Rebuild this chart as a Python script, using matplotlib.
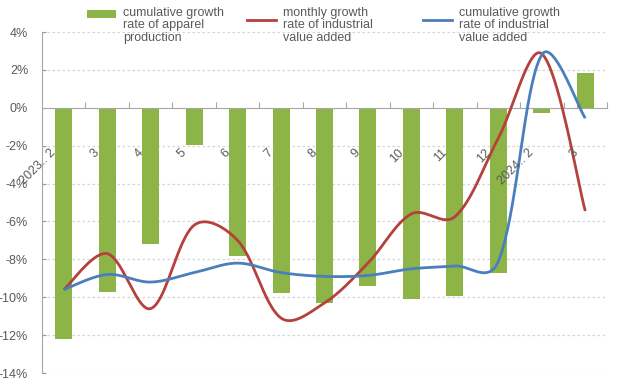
import numpy as np
import matplotlib
matplotlib.use("Agg")
import matplotlib.pyplot as plt
from matplotlib.patches import Patch
from matplotlib.lines import Line2D
from matplotlib.legend_handler import HandlerPatch, HandlerLine2D

categories = ["2023.. 2", "3", "4", "5", "6", "7", "8", "9", "10", "11", "12", "2024.. 2", "3"]
apparel_cum = [-12.2, -9.7, -7.2, -1.95, -7.85, -9.8, -10.3, -9.4, -10.1, -9.95, -8.7, -0.3, 1.85]
ind_monthly = [-9.6, -7.7, -10.6, -6.2, -7.0, -11.1, -10.3, -8.2, -5.6, -5.75, -1.6, 2.85, -5.45]
ind_cum = [-9.6, -8.8, -9.2, -8.7, -8.2, -8.7, -8.9, -8.85, -8.5, -8.35, -8.1, 2.8, -0.55]
yticks = [4, 2, 0, -2, -4, -6, -8, -10, -12, -14]
series_labels = ["cumulative growth\nrate of apparel\nproduction",
                 "monthly growth\nrate of industrial\nvalue added",
                 "cumulative growth\nrate of industrial\nvalue added"]

GREEN = "#8cb446"
RED = "#b5403c"
BLUE = "#4a7fbd"
GRAY = "#5a5a5a"

plt.rcParams['font.family'] = ['Liberation Sans', 'DejaVu Sans']

XU, YU = 43.4, 19.0  # pixel size of one category / one percent


def smooth(y, n=40, w=0.5):
    y = np.asarray(y, float)
    x = np.arange(len(y), dtype=float)
    P = np.column_stack([x * XU, y * YU])
    m = len(P)
    out = []
    for i in range(m - 1):
        p0 = P[i - 1] if i > 0 else P[i]
        p1 = P[i]
        p2 = P[i + 1]
        p3 = P[i + 2] if i + 2 < m else P[i + 1]
        d01 = np.linalg.norm(p1 - p0)
        d12 = np.linalg.norm(p2 - p1)
        d23 = np.linalg.norm(p3 - p2)
        t1 = p2 - p0
        t2 = p3 - p1
        f1 = d12 / (d01 + d12) / 3.0 if d01 > 0 else 1 / 6.0
        f2 = d12 / (d12 + d23) / 3.0 if d23 > 0 else 1 / 6.0
        f1 = w / 6.0 + (1 - w) * f1
        f2 = w / 6.0 + (1 - w) * f2
        b1 = p1 + t1 * f1
        b2 = p2 - t2 * f2
        t = np.linspace(0, 1, n)[:, None]
        seg = ((1 - t) ** 3) * p1 + 3 * ((1 - t) ** 2) * t * b1 + 3 * (1 - t) * t ** 2 * b2 + t ** 3 * p2
        out.append(seg if i == 0 else seg[1:])
    c = np.vstack(out)
    return c[:, 0] / XU, c[:, 1] / YU


UP = 0.9


class UpPatch(HandlerPatch):
    def create_artists(self, legend, orig_handle, xdescent, ydescent, width, height, fontsize, trans):
        return super().create_artists(legend, orig_handle, xdescent, ydescent - UP * fontsize,
                                      width, height, fontsize, trans)


class UpLine(HandlerLine2D):
    def create_artists(self, legend, orig_handle, xdescent, ydescent, width, height, fontsize, trans):
        return super().create_artists(legend, orig_handle, xdescent, ydescent - UP * fontsize,
                                      width, height, fontsize, trans)


fig = plt.figure(figsize=(6.3, 3.82), dpi=100)
ax = fig.add_axes([42 / 630, 1 - 373 / 382, (607 - 42) / 630, (373 - 32) / 382])

x = np.arange(len(categories))
bars = ax.bar(x, apparel_cum, width=0.39, color=GREEN, zorder=2)

xs, ys = smooth(ind_monthly)
l1, = ax.plot(xs, ys, color=RED, lw=2.0, zorder=3, solid_capstyle='butt')
xs, ys = smooth(ind_cum)
l2, = ax.plot(xs, ys, color=BLUE, lw=2.0, zorder=3, solid_capstyle='butt')

ax.set_xlim(-0.5, len(categories) - 0.5)
ax.set_ylim(-14, 4)
ax.set_yticks(yticks)
ax.set_yticklabels([f"{v}%" for v in yticks], color=GRAY, fontsize=9)
ax.tick_params(axis='y', direction='in', length=3, color="#9a9a9a", pad=10)

for v in yticks:
    if v != 0:
        ax.axhline(v, color="#d6d6d6", lw=0.9, ls=(0, (2, 2)), zorder=0)

ax.spines['bottom'].set_position(('data', 0))
ax.spines['bottom'].set_color("#a6a6a6")
ax.spines['left'].set_color("#a6a6a6")
ax.spines['top'].set_visible(False)
ax.spines['right'].set_visible(False)
ax.set_xticks(np.arange(0.5, len(categories), 1.0))
ax.set_xticklabels([])
ax.tick_params(axis='x', direction='in', length=4, color="#a6a6a6")

for i, lab in enumerate(categories):
    ax.text(i - 0.12, -2.05, lab, rotation=45, ha='right', va='top',
            color=GRAY, fontsize=9, zorder=4)

handles = [Patch(facecolor=GREEN, edgecolor='none'),
           Line2D([], [], color=RED, lw=2.0),
           Line2D([], [], color=BLUE, lw=2.0)]
xpos = [87, 247, 423]
hmap = {Patch: UpPatch(), Line2D: UpLine()}
for h, lab, xp in zip(handles, series_labels, xpos):
    leg = fig.legend([h], [lab], loc='upper left', bbox_to_anchor=(xp / 630, 1 - 7 / 382),
                     frameon=False, prop={'size': 9}, handlelength=2.35, handleheight=0.65,
                     handletextpad=0.55, labelcolor=GRAY, borderpad=0, borderaxespad=0,
                     handler_map=hmap)
    for t in leg.get_texts():
        t.set_linespacing(1.05)

fig.savefig("out.png", dpi=100)
